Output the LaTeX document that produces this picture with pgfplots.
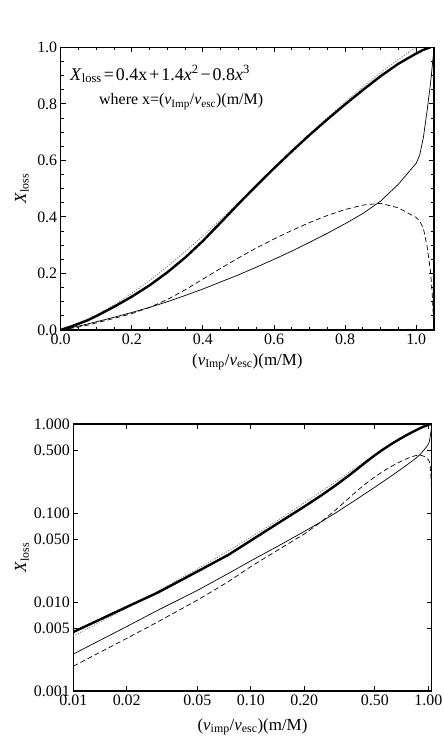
\documentclass[border=0pt]{standalone}
\usepackage{fontspec}
\setmainfont{Liberation Serif}
\usepackage{pgfplots}
\usepackage{pgfplotstable}
\pgfplotsset{compat=1.18}

\pgfplotstableread{
x y
0 0
0.01 0.0046
0.02 0.0088
0.03 0.0128
0.05 0.022
0.075 0.034
0.1 0.049
0.15 0.082
0.2 0.118
0.25 0.158
0.3 0.204
0.35 0.256
0.4 0.315
0.45 0.38
0.5 0.446
0.55 0.51
0.6 0.572
0.65 0.632
0.7 0.69
0.75 0.745
0.8 0.798
0.85 0.849
0.9 0.898
0.95 0.942
1.0 0.978
1.02 0.991
1.04 1.0
}\thick

\pgfplotstableread{
x y
0 0
0.01 0.00414
0.02 0.00855
0.03 0.01324
0.05 0.0234
0.075 0.0377
0.1 0.0532
0.15 0.0888
0.2 0.1296
0.25 0.175
0.3 0.2244
0.35 0.2772
0.4 0.3328
0.45 0.3906
0.5 0.45
0.55 0.5104
0.6 0.5712
0.65 0.6318
0.7 0.6916
0.75 0.75
0.8 0.8064
0.85 0.8602
0.9 0.9108
0.95 0.9576
1.0 1.0
}\formula

\pgfplotstableread{
x y
0 0
0.01 0.0026
0.02 0.0053
0.03 0.0081
0.05 0.0135
0.075 0.021
0.1 0.029
0.15 0.045
0.2 0.062
0.25 0.08
0.3 0.1
0.35 0.122
0.4 0.145
0.45 0.17
0.5 0.195
0.55 0.222
0.6 0.25
0.65 0.279
0.7 0.31
0.75 0.342
0.8 0.376
0.85 0.412
0.9 0.456
0.95 0.516
1.0 0.59
1.01 0.62
1.02 0.68
1.03 0.77
1.04 0.87
1.048 0.97
1.052 1.02
}\thin

\pgfplotstableread{
x y
0 0
0.01 0.0019
0.02 0.0039
0.03 0.006
0.05 0.0105
0.075 0.017
0.1 0.025
0.15 0.041
0.2 0.058
0.25 0.08
0.3 0.108
0.35 0.142
0.4 0.18
0.45 0.218
0.5 0.255
0.55 0.29
0.6 0.322
0.65 0.352
0.7 0.38
0.75 0.405
0.8 0.426
0.85 0.442
0.9 0.448
0.95 0.432
1.0 0.398
1.01 0.385
1.02 0.36
1.03 0.30
1.04 0.21
1.045 0.13
1.05 0.0
}\dashedtab

\pgfplotsset{
  myframe/.style={
    scale only axis,
    axis line style={line width=1.5bp},
    tick style={line width=0.9bp, black},
    tick align=inside,
    major tick length=5bp,
    minor tick length=3bp,
    ticklabel style={font=\fontsize{16}{18}\selectfont},
    /pgf/number format/assume math mode=true,
    clip=true,
  },
  thickline/.style={black, line width=2.4bp},
  thinline/.style={black, line width=0.7bp},
  dashline/.style={black, line width=0.7bp, dash pattern=on 5bp off 3bp},
  dotline/.style={gray, line width=1bp, dash pattern=on 1bp off 1.6bp},
}

\begin{document}
\begin{tikzpicture}
\useasboundingbox (0,0) rectangle (444bp,744bp);

\begin{axis}[
  myframe,
  at={(60.7bp,414bp)}, anchor=south west,
  width=373.3bp, height=282.7bp,
  xmin=0, xmax=1.05, ymin=0, ymax=1.0,
  xtick={0,0.2,0.4,0.6,0.8,1.0},
  xticklabels={0.0,0.2,0.4,0.6,0.8,1.0},
  ytick={0,0.2,0.4,0.6,0.8,1.0},
  yticklabels={0.0,0.2,0.4,0.6,0.8,1.0},
  minor tick num=3,
  xlabel={(\textit{v}\textsubscript{Imp}/\textit{v}\textsubscript{esc})(m/M)},
  ylabel={\textit{X}\textsubscript{loss}},
  every axis x label/.style={at={(axis description cs:0.5,-0.113)}, anchor=center, font=\fontsize{17}{20}\selectfont},
  every axis y label/.style={at={(axis description cs:-0.104,0.5)}, anchor=center, rotate=90, font=\fontsize{17}{20}\selectfont},
]
\addplot[dotline] table[x=x,y=y] {\formula};
\addplot[thinline] table[x=x,y=y] {\thin};
\addplot[dashline] table[x=x,y=y] {\dashedtab};
\addplot[thickline] table[x=x,y=y] {\thick};
\node[anchor=base west, inner sep=0, font=\fontsize{18}{20}\selectfont] at (rel axis cs:0.025,0.884)
  {\textit{X}\textsubscript{loss}\hspace{2bp}=\hspace{2bp}0.4x\hspace{2bp}+\hspace{2bp}1.4\textit{x}\textsuperscript{2}\hspace{2bp}−\hspace{2bp}0.8\textit{x}\textsuperscript{3}};
\node[anchor=base west, inner sep=0, font=\fontsize{16}{18}\selectfont] at (rel axis cs:0.1026,0.796)
  {where x=(\textit{v}\textsubscript{Imp}/\textit{v}\textsubscript{esc})(m/M)};
\end{axis}

\begin{axis}[
  myframe,
  at={(73.3bp,53bp)}, anchor=south west,
  width=358.4bp, height=267bp,
  xmode=log, ymode=log,
  xmin=0.01, xmax=1.045, ymin=0.001, ymax=1.0,
  xtick={0.01,0.02,0.05,0.1,0.2,0.5,1},
  xticklabels={0.01,0.02,0.05,0.10,0.20,0.50,1.00},
  ytick={0.001,0.005,0.01,0.05,0.1,0.5,1},
  yticklabels={0.001,0.005,0.010,0.050,0.100,0.500,1.000},
  xminorticks=false, yminorticks=false,
  xlabel={(\textit{v}\textsubscript{imp}/\textit{v}\textsubscript{esc})(m/M)},
  ylabel={\textit{X}\textsubscript{loss}},
  every axis x label/.style={at={(axis description cs:0.5,-0.135)}, anchor=center, font=\fontsize{17}{20}\selectfont},
  every axis y label/.style={at={(axis description cs:-0.143,0.5)}, anchor=center, rotate=90, font=\fontsize{17}{20}\selectfont},
]
\addplot[dotline] table[x=x,y=y, skip coords between index={0}{1}] {\formula};
\addplot[thinline] table[x=x,y=y, skip coords between index={0}{1}] {\thin};
\addplot[dashline] table[x=x,y=y, skip coords between index={0}{1}] {\dashedtab};
\addplot[thickline] table[x=x,y=y, skip coords between index={0}{1}] {\thick};
\end{axis}
\end{tikzpicture}
\end{document}
